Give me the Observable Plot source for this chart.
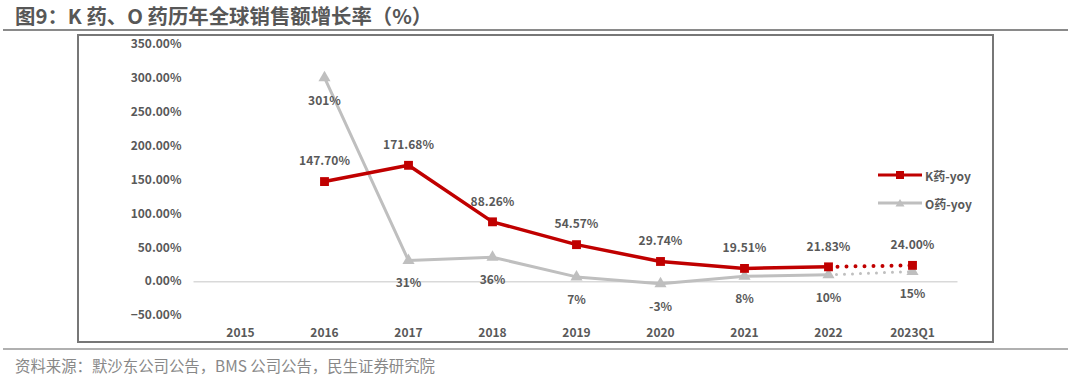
<!DOCTYPE html>
<html>
<head>
<meta charset="utf-8">
<script src="https://cdn.jsdelivr.net/npm/d3@7"></script>
<script src="https://cdn.jsdelivr.net/npm/@observablehq/plot@0.6"></script>
<style>
  html, body { margin: 0; padding: 0; background: #fff; }
  body { width: 1072px; height: 381px; position: relative; overflow: hidden;
         font-family: "Noto Sans CJK SC", "Noto Sans", sans-serif; }
  #title { position: absolute; left: 15px; top: 2px; font-size: 20.4px; font-weight: bold;
           color: #575757; line-height: 26px; white-space: nowrap; }
  #rule1 { position: absolute; left: 3px; top: 29px; width: 1065px; height: 2px; background: #8a8a8a; }
  #frame { position: absolute; left: 77px; top: 34px; width: 917px; height: 309px;
           box-sizing: border-box; border: 2px solid #777; }
  #frame svg { position: absolute; left: 0; top: 0; }
  #rule2 { position: absolute; left: 3px; top: 348px; width: 1065px; height: 2px; background: #b0b0b0; }
  #source { position: absolute; left: 15px; top: 354px; font-size: 15.4px; color: #888;
            line-height: 22px; white-space: nowrap; }
  .leg { position: absolute; left: 878px; height: 14px; display: flex; align-items: center;
         font-size: 12px; font-weight: bold; color: #595959; white-space: nowrap; }
  .leg svg { margin-right: 3px; }
</style>
</head>
<body>
<div id="title">图9：K 药、O 药历年全球销售额增长率（%）</div>
<div id="rule1"></div>
<div id="frame"></div>
<div id="rule2"></div>
<div id="source">资料来源：默沙东公司公告，BMS 公司公告，民生证券研究院</div>
<div class="leg" style="top:168px;">
  <svg width="44" height="10"><line x1="0" y1="5" x2="44" y2="5" stroke="#C00000" stroke-width="3"/><rect x="18" y="1" width="8" height="8" fill="#C00000"/></svg>K药-yoy
</div>
<div class="leg" style="top:196px;">
  <svg width="44" height="10"><line x1="0" y1="5" x2="44" y2="5" stroke="#BFBFBF" stroke-width="3"/><path d="M22,1 L26.5,8.5 L17.5,8.5 Z" fill="#BFBFBF"/></svg>O药-yoy
</div>
<script>
// ---- data ----
const years = ["2015", "2016", "2017", "2018", "2019", "2020", "2021", "2022", "2023Q1"];
const kYoy = [null, 147.70, 171.68, 88.26, 54.57, 29.74, 19.51, 21.83, 24.00];
const oYoy = [null, 301, 31, 36, 7, -3, 8, 10, 15];
const yTicks = [-50, 0, 50, 100, 150, 200, 250, 300, 350];
const estimateFrom = "2022"; // segment 2022 -> 2023Q1 drawn dotted

const rows = years.map((y, i) => ({year: y, k: kYoy[i], o: oYoy[i]}));
const iEst = years.indexOf(estimateFrom);
const solid = rows.slice(0, iEst + 1);
const dotted = rows.slice(iEst);
const kPts = rows.filter(d => d.k != null);
const oPts = rows.filter(d => d.o != null);

const RED = "#C00000", GRAY = "#BFBFBF", TXT = "#595959";

const chart = Plot.plot({
  width: 913,
  height: 305,
  marginLeft: 114.5,
  marginRight: 34.5,
  marginTop: 8,
  marginBottom: 26,
  style: {fontFamily: '"Noto Sans CJK SC", "Noto Sans", sans-serif', fontSize: "12px",
          fontWeight: "bold", color: TXT, background: "transparent", overflow: "visible"},
  x: {type: "point", domain: years, padding: 0.5, axis: null},
  y: {domain: [-50, 350], axis: null},
  marks: [
    Plot.axisY(yTicks, {tickSize: 0, tickPadding: 12.5, label: null,
      tickFormat: d => d3.format(".2f")(d) + "%", fill: TXT}),
    Plot.axisX(years, {tickSize: 0, tickPadding: 13, label: null, fill: TXT}),
    Plot.ruleY([0], {stroke: "#d9d9d9", strokeWidth: 1.5}),
    // O drug
    Plot.line(solid.filter(d => d.o != null), {x: "year", y: "o", stroke: GRAY, strokeWidth: 3}),
    Plot.line(dotted, {x: "year", y: "o", stroke: GRAY, strokeWidth: 3, strokeDasharray: "0,8", strokeLinecap: "round"}),
    Plot.dot(oPts, {x: "year", y: "o", symbol: "triangle", r: 4.5, fill: GRAY}),
    // K drug
    Plot.line(solid.filter(d => d.k != null), {x: "year", y: "k", stroke: RED, strokeWidth: 3.5}),
    Plot.line(dotted, {x: "year", y: "k", stroke: RED, strokeWidth: 4, strokeDasharray: "0,9", strokeLinecap: "round"}),
    Plot.dot(kPts, {x: "year", y: "k", symbol: "square", r: 5, fill: RED}),
    // labels
    Plot.text(kPts, {x: "year", y: "k", dy: -20, text: d => d3.format(".2f")(d.k) + "%", fill: TXT}),
    Plot.text(oPts, {x: "year", y: "o", dy: 23, text: d => d.o + "%", fill: TXT})
  ]
});
document.getElementById("frame").appendChild(chart);
</script>
</body>
</html>
